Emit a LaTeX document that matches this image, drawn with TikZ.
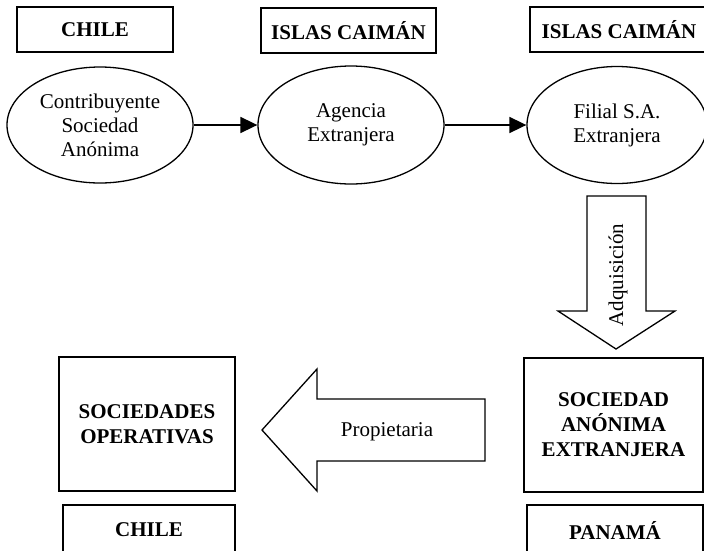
\documentclass[tikz,border=0pt]{standalone}
\usepackage{fontspec}
\setmainfont{Liberation Serif}
\usetikzlibrary{arrows.meta,shapes.geometric}
\begin{document}
\begin{tikzpicture}[x=1pt,y=-1pt,
  lw/.style={line width=1.3pt},
  tagbox/.style={draw,lw,rectangle,inner sep=0pt,align=center,font=\fontsize{21}{24}\selectfont\bfseries},
  bigbox/.style={draw,lw,rectangle,inner sep=0pt,align=center,font=\fontsize{21}{25}\selectfont\bfseries},
  oval/.style={draw,lw,ellipse,inner sep=0pt,align=center,font=\fontsize{21}{24}\selectfont},
  conn/.style={line width=1.7pt,-{Triangle[length=17pt,width=16pt]}},
  fatarrow/.style={draw,lw,fill=white,line join=miter},
  lbl/.style={font=\fontsize{21}{24}\selectfont,inner sep=0pt}
]
\useasboundingbox (0,0) rectangle (704,550);
% top country boxes
\node[tagbox,minimum width=156pt,minimum height=45pt] (tc1) at (95,29.5) {CHILE};
\node[tagbox,minimum width=175pt,minimum height=45pt] (tc2) at (348.5,30.5) {ISLAS CAIMÁN};
\node[tagbox,minimum width=178pt,minimum height=45pt] (tc3) at (619,29.5) {ISLAS CAIMÁN};
% ellipses
\node[oval,minimum width=186pt,minimum height=116pt] (e1) at (100,125) {Contribuyente\\Sociedad\\Anónima};
\node[oval,minimum width=186pt,minimum height=118pt] (e2) at (351,125) {Agencia\\Extranjera};
\node[oval,minimum width=180pt,minimum height=117pt] (e3) at (617,125) {Filial S.A.\\Extranjera};
\draw[conn] (e1.east) -- (e2.west);
\draw[conn] (e2.east) -- (e3.west);
% down fat arrow
\draw[fatarrow] (587,196) -- (646,196) -- (646,311) -- (675,311) -- (616,349) -- (558,311) -- (587,311) -- cycle;
\node[lbl,rotate=90] (adq) at (618,275) {Adquisición};
% right box
\node[bigbox,minimum width=179pt,minimum height=134pt] (sae) at (613.5,425) {SOCIEDAD\\ANÓNIMA\\EXTRANJERA};
\node[tagbox,minimum width=176pt,minimum height=50pt] (pan) at (615,530) {PANAMÁ};
% left box
\node[bigbox,minimum width=176pt,minimum height=134pt] (sop) at (147,424) {SOCIEDADES\\OPERATIVAS};
\node[tagbox,minimum width=172pt,minimum height=50pt] (tc4) at (149,530) {CHILE};
% left fat arrow
\draw[fatarrow] (485,399) -- (485,461) -- (317,461) -- (317,491) -- (262,430) -- (317,369) -- (317,399) -- cycle;
\node[lbl] (prop) at (387,432) {Propietaria};
\end{tikzpicture}
\end{document}
